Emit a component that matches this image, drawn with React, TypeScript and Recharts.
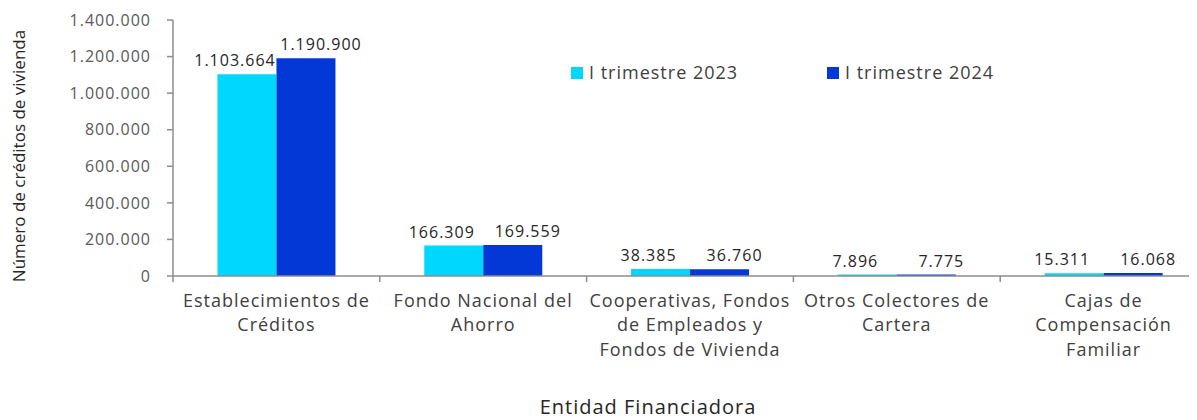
import React from 'react';
import { BarChart, Bar, XAxis, YAxis, Legend, LabelList } from 'recharts';

const categories = [
  'Establecimientos de\nCréditos',
  'Fondo Nacional del\nAhorro',
  'Cooperativas, Fondos\nde Empleados y\nFondos de Vivienda',
  'Otros Colectores de\nCartera',
  'Cajas de\nCompensación\nFamiliar',
];
const series2023 = [1103664, 166309, 38385, 7896, 15311];
const series2024 = [1190900, 169559, 36760, 7775, 16068];
const seriesNames = ['I trimestre 2023', 'I trimestre 2024'];
const yTicks = [0, 200000, 400000, 600000, 800000, 1000000, 1200000, 1400000];
const yAxisTitle = 'Número de créditos de vivienda';
const xAxisTitle = 'Entidad Financiadora';

const data = categories.map((name, i) => ({ name, a: series2023[i], b: series2024[i] }));

const W = 1210;
const H = 412;
const M = { top: 12, right: 11, bottom: 0, left: 0 };
const Y_W = 165;
const X_H = 144;
const PLOT_W = W - M.left - M.right - Y_W;
const CAT_W = PLOT_W / categories.length;
const FONT = '"Open Sans", "Noto Sans", sans-serif';
const AXIS = '#8c8c8c';
const C1 = '#00D7FF';
const C2 = '#0338D6';

const fmt = (v: number) => String(v).replace(/\B(?=(\d{3})+(?!\d))/g, '.');

const XTick = (props: any) => {
  const { x, y, payload, index } = props;
  const lines = String(payload.value).split('\n');
  const left = x - CAT_W / 2;
  return (
    <g>
      <line x1={left} x2={left} y1={y - 6} y2={y} stroke={AXIS} strokeWidth={1.5} />
      {index === categories.length - 1 && (
        <line x1={x + CAT_W / 2} x2={x + CAT_W / 2} y1={y - 6} y2={y} stroke={AXIS} strokeWidth={1.5} />
      )}
      <text x={x} y={y} textAnchor="middle" fontSize={18} fill="#404040" letterSpacing={1} fontFamily={FONT}>
        {lines.map((l, i) => (
          <tspan key={i} x={x} dy={24.5}>
            {l}
          </tspan>
        ))}
      </text>
    </g>
  );
};

const YTick = (props: any) => {
  const { x, y, payload } = props;
  return (
    <text x={x} y={y} dy={5.7} textAnchor="end" fontSize={16} fill="#595959" letterSpacing={1} fontFamily={FONT}>
      {fmt(payload.value)}
    </text>
  );
};

const makeLabel = (dx: number) => (p: any) => {
  const { x, y, width, value } = p;
  return (
    <text
      x={Number(x) + Number(width) / 2 + dx}
      y={Number(y) - 8}
      textAnchor="middle"
      fontSize={16}
      letterSpacing={1}
      fill="#262626"
      fontFamily={FONT}
    >
      {fmt(Number(value))}
    </text>
  );
};

const LegendContent = (props: any) => {
  const payload = props.payload || [];
  return (
    <svg width={440} height={26} style={{ display: 'block' }}>
      {payload.map((item: any, i: number) => (
        <g key={i} transform={`translate(${i * 256},0)`}>
          <rect x={0} y={7} width={12} height={12} fill={item.color} />
          <text x={18} y={19.3} fontSize={18} letterSpacing={1} fill="#404040" fontFamily={FONT}>
            {item.value}
          </text>
        </g>
      ))}
    </svg>
  );
};

export default function App() {
  return (
    <div style={{ width: 1189, height: H, overflow: 'hidden' }}>
      <BarChart width={W} height={H} data={data} margin={M} barCategoryGap="21.5%" barGap={0}>
        <XAxis
          dataKey="name"
          interval={0}
          height={X_H}
          tickLine={false}
          tickSize={6}
          tickMargin={0}
          axisLine={{ stroke: AXIS, strokeWidth: 1.5 }}
          tick={<XTick />}
          label={{
            value: xAxisTitle,
            content: () => (
              <text x={640} y={406} textAnchor="middle" fontSize={20} letterSpacing={1} fill="#262626" fontFamily={FONT}>
                {xAxisTitle}
              </text>
            ),
          }}
        />
        <YAxis
          width={Y_W}
          domain={[0, 1400000]}
          ticks={yTicks}
          interval={0}
          tickSize={6}
          tickMargin={16}
          axisLine={{ stroke: AXIS, strokeWidth: 1.5 }}
          tickLine={{ stroke: AXIS, strokeWidth: 1.5 }}
          tick={<YTick />}
          label={{
            value: yAxisTitle,
            content: (p: any) => {
              const vb = p.viewBox || { x: 0, y: 12, height: 256 };
              const cx = vb.x + 10;
              const cy = vb.y + vb.height / 2 + 8;
              return (
                <text
                  transform={`translate(${cx},${cy}) rotate(-90)`}
                  textAnchor="middle"
                  dominantBaseline="central"
                  fontSize={17}
                  fill="#262626"
                  fontFamily={FONT}
                >
                  {yAxisTitle}
                </text>
              );
            },
          }}
        />
        <Legend
          layout="horizontal"
          verticalAlign="middle"
          align="center"
          content={<LegendContent />}
          wrapperStyle={{ position: 'absolute', top: 52, left: 563, width: 440, height: 26 }}
        />
        <Bar dataKey="a" name={seriesNames[0]} fill={C1} isAnimationActive={false}>
          <LabelList dataKey="a" content={makeLabel(-12)} />
        </Bar>
        <Bar dataKey="b" name={seriesNames[1]} fill={C2} isAnimationActive={false}>
          <LabelList dataKey="b" content={makeLabel(15)} />
        </Bar>
      </BarChart>
    </div>
  );
}
